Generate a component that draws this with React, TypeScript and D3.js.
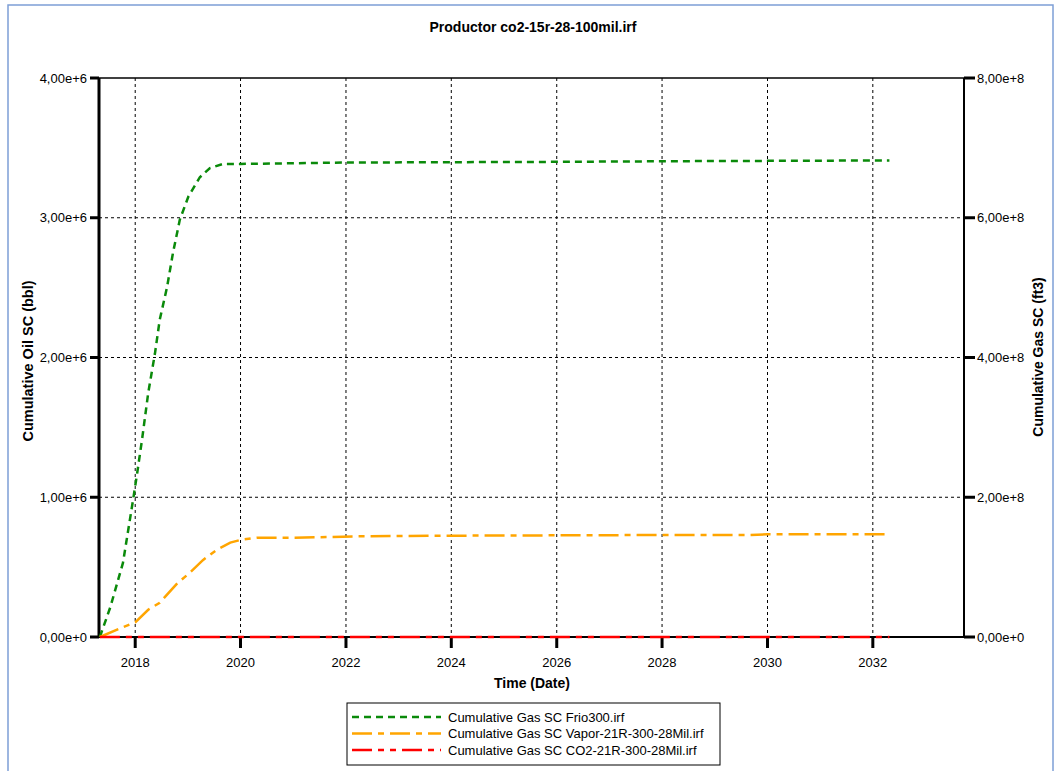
import React from "react";
import * as d3 from "d3";

const title = "Productor co2-15r-28-100mil.irf";
const leftTicks = [0, 1e6, 2e6, 3e6, 4e6];
const leftTickLabels = ["0,00e+0", "1,00e+6", "2,00e+6", "3,00e+6", "4,00e+6"];
const rightTicks = [0, 2e8, 4e8, 6e8, 8e8];
const rightTickLabels = ["0,00e+0", "2,00e+8", "4,00e+8", "6,00e+8", "8,00e+8"];
const yearTicks = [2018, 2020, 2022, 2024, 2026, 2028, 2030, 2032];

const frioDates = ["2017-05-01", "2017-07-13", "2017-10-08", "2017-12-17", "2018-01-15", "2018-02-17", "2018-04-01", "2018-05-18", "2018-06-20", "2018-08-10", "2018-09-20", "2018-11-06", "2019-01-04", "2019-03-25", "2019-06-03", "2019-09-02", "2020-01-01", "2022-01-01", "2026-01-01", "2028-06-01", "2032-04-25"];
const frioValues = [0, 0.43e8, 1.06e8, 1.96e8, 2.35e8, 2.82e8, 3.49e8, 4.06e8, 4.54e8, 5.01e8, 5.5e8, 5.97e8, 6.3e8, 6.58e8, 6.71e8, 6.77e8, 6.77e8, 6.79e8, 6.8e8, 6.81e8, 6.82e8];

const vaporDates = ["2017-05-01", "2017-10-08", "2018-01-01", "2018-04-01", "2018-06-20", "2018-10-20", "2019-01-15", "2019-04-15", "2019-07-22", "2019-10-22", "2020-01-01", "2020-04-25", "2021-01-01", "2022-03-01", "2024-01-01", "2028-01-01", "2029-09-01", "2030-01-01", "2032-04-25"];
const vaporValues = [0, 0.14e8, 0.21e8, 0.39e8, 0.49e8, 0.77e8, 0.92e8, 1.1e8, 1.25e8, 1.35e8, 1.39e8, 1.42e8, 1.42e8, 1.44e8, 1.45e8, 1.46e8, 1.46e8, 1.47e8, 1.47e8];

const co2Dates = ["2017-05-01", "2032-04-25"];
const co2Values = [0, 0];

const seriesNames = [
  "Cumulative Gas SC Frio300.irf",
  "Cumulative Gas SC Vapor-21R-300-28Mil.irf",
  "Cumulative Gas SC CO2-21R-300-28Mil.irf",
];
const seriesColors = ["#0a8a0a", "#ffa500", "#ff0000"];
const seriesDash = ["7,5", "20,6,6,6", "20,6,6,6,6,6"];

const font = "'Liberation Sans', Arial, sans-serif";

export default function App() {
  const L = 99, R = 964, T = 78, B = 637;
  const x = d3.scaleTime()
    .domain([new Date(2017, 3, 25), new Date(2033, 8, 24)])
    .range([L, R]);
  const yL = d3.scaleLinear().domain([0, 4e6]).range([B, T]);
  const yR = d3.scaleLinear().domain([0, 8e8]).range([B, T]);
  const line = d3.line<[Date, number]>()
    .x((d) => x(d[0]))
    .y((d) => yR(d[1]));
  const mk = (ds: string[], vs: number[]) =>
    ds.map((d, i) => [new Date(d + "T00:00:00"), vs[i]] as [Date, number]);
  const series = [mk(frioDates, frioValues), mk(vaporDates, vaporValues), mk(co2Dates, co2Values)];

  return (
    <svg width={1055} height={771} style={{ position: "absolute", left: 0, top: 0, background: "#fff" }} fontFamily={font}>
      <rect x={0} y={0} width={1055} height={771} fill="#fff" />
      <rect x={8} y={5} width={1045} height={780} fill="none" stroke="#7d9fd6" strokeWidth={1.5} />
      <text x={533} y={32} textAnchor="middle" fontSize={14} fontWeight="bold">{title}</text>

      {/* grid */}
      {yearTicks.map((yr) => (
        <line key={"gx" + yr} x1={x(new Date(yr, 0, 1))} x2={x(new Date(yr, 0, 1))} y1={T} y2={B} stroke="#000" strokeWidth={1} strokeDasharray="3,3" />
      ))}
      {leftTicks.slice(1, 4).map((v) => (
        <line key={"gy" + v} x1={L} x2={R} y1={yL(v)} y2={yL(v)} stroke="#000" strokeWidth={1} strokeDasharray="3,3" />
      ))}
      <line x1={L} x2={R} y1={T} y2={T} stroke="#000" strokeWidth={1.5} />
      <line x1={L} x2={R} y1={B} y2={B} stroke="#000" strokeWidth={2} />
      <line x1={L} x2={L} y1={T} y2={B + 1} stroke="#000" strokeWidth={3} />
      <line x1={R} x2={R} y1={T} y2={B + 1} stroke="#000" strokeWidth={2} />

      {/* left ticks */}
      {leftTicks.map((v, i) => (
        <g key={"lt" + v}>
          <line x1={90} x2={L} y1={yL(v)} y2={yL(v)} stroke="#000" strokeWidth={3} />
          <text x={87} y={yL(v) + 4.5} textAnchor="end" fontSize={13}>{leftTickLabels[i]}</text>
        </g>
      ))}
      {rightTicks.map((v, i) => (
        <g key={"rt" + v}>
          <line x1={R} x2={975} y1={yR(v)} y2={yR(v)} stroke="#000" strokeWidth={3} />
          <text x={977} y={yR(v) + 4.5} textAnchor="start" fontSize={13}>{rightTickLabels[i]}</text>
        </g>
      ))}
      {yearTicks.map((yr) => (
        <g key={"xt" + yr}>
          <line x1={x(new Date(yr, 0, 1))} x2={x(new Date(yr, 0, 1))} y1={B} y2={648} stroke="#000" strokeWidth={3} />
          <text x={x(new Date(yr, 0, 1))} y={667} textAnchor="middle" fontSize={13}>{yr}</text>
        </g>
      ))}

      <text x={532} y={688} textAnchor="middle" fontSize={14} fontWeight="bold">Time (Date)</text>
      <text transform="translate(33,361) rotate(-90)" textAnchor="middle" fontSize={14.5} fontWeight="bold">Cumulative Oil SC (bbl)</text>
      <text transform="translate(1043,357) rotate(-90)" textAnchor="middle" fontSize={14} fontWeight="bold">Cumulative Gas SC (ft3)</text>

      {/* series */}
      {series.map((s, i) => (
        <path key={"s" + i} d={line(s) || ""} fill="none" stroke={seriesColors[i]} strokeWidth={2.5} strokeDasharray={seriesDash[i]} />
      ))}

      {/* legend */}
      <rect x={347} y={703} width={373} height={62} fill="#fff" stroke="#000" strokeWidth={1} />
      {seriesNames.map((n, i) => (
        <g key={"lg" + i}>
          <line x1={352} x2={441} y1={717 + i * 16.5} y2={717 + i * 16.5} stroke={seriesColors[i]} strokeWidth={2.5} strokeDasharray={seriesDash[i]} />
          <text x={448} y={721.5 + i * 16.5} fontSize={13}>{n}</text>
        </g>
      ))}
    </svg>
  );
}
